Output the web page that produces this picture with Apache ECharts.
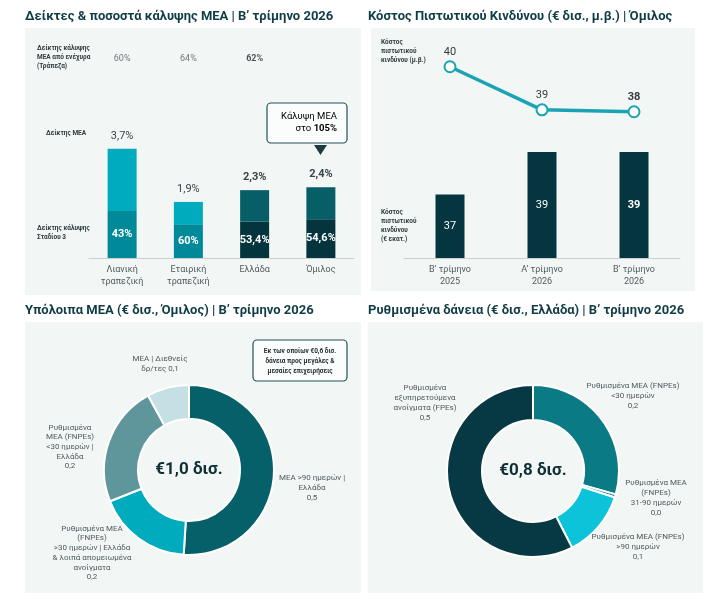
<!DOCTYPE html>
<html>
<head>
<meta charset="utf-8">
<script src="https://cdn.jsdelivr.net/npm/echarts@6/dist/echarts.min.js"></script>
<style>
html, body { margin: 0; padding: 0; background: #fff; }
#main { width: 719px; height: 601px; }
</style>
</head>
<body>
<div id="main"></div>
<script>
// Δείκτες & ποσοστά κάλυψης ΜΕΑ
const segments = ['Λιανική\nτραπεζική', 'Εταιρική\nτραπεζική', 'Ελλάδα', 'Όμιλος'];
const npeRatio = [3.7, 1.9, 2.3, 2.4];
const stage3Coverage = [43, 60, 53.4, 54.6];
const coveredPart = [1.59, 1.14, 1.23, 1.31];
const uncoveredPart = [2.11, 0.76, 1.07, 1.09];
const collateralCoverage = [60, 64, 62, null];

// Κόστος πιστωτικού κινδύνου
const quarters = ['Β’ τρίμηνο\n2025', 'Α’ τρίμηνο\n2026', 'Β’ τρίμηνο\n2026'];
const costOfRisk = [39.6, 38.5, 38.45];
const provisions = [37, 39, 39];

// Υπόλοιπα ΜΕΑ
const npeNames = ['ΜΕΑ >90 ημερών |\nΕλλάδα', 'Ρυθμισμένα ΜΕΑ\n(FNPEs)\n>30 ημερών | Ελλάδα\n& λοιπά απομειωμένα\nανοίγματα', 'Ρυθμισμένα\nΜΕΑ (FNPEs)\n<30 ημερών |\nΕλλάδα', 'ΜΕΑ | Διεθνείς\nδρ/τες'];
const npeValues = [0.51, 0.18, 0.23, 0.08];

// Ρυθμισμένα δάνεια
const restructNames = ['Ρυθμισμένα ΜΕΑ (FNPEs)\n<30 ημερών', 'Ρυθμισμένα ΜΕΑ\n(FNPEs)\n31-90 ημερών', 'Ρυθμισμένα ΜΕΑ (FNPEs)\n>90 ημερών', 'Ρυθμισμένα\nεξυπηρετούμενα\nανοίγματα (FPEs)'];
const restructValues = [0.235, 0.005, 0.1, 0.46];

const comma = (v, d) => v.toFixed(d).replace('.', ',');
const pct = v => String(v).replace('.', ',') + '%';

const FONT = 'Roboto';
const TITLE = '#0f3c45';
const GREY = '#4f5b5e';
const BG = '#f2f6f5';

// θέσεις ετικετών πίτας
const npeLabelPos = [[312, 488], [92, 553], [70, 447], [160, 364]];
const restructLabelPos = [[633, 396], [656, 498], [638, 547], [425, 403]];

let chart = echarts.init(document.getElementById('main'));

const catAxis = (idx, data, show) => ({
  type: 'category',
  gridIndex: idx,
  data: data,
  show: show,
  axisTick: { show: false },
  axisLine: { lineStyle: { color: '#c9cfcf' } },
  axisLabel: { color: GREY, fontSize: 9, lineHeight: 12, margin: 6 }
});
const hiddenValue = (idx, min, max) => ({
  type: 'value', gridIndex: idx, min: min, max: max, show: false, splitLine: { show: false }
});

const smallNote = (x, y, text) => ({
  type: 'text', left: x, top: y,
  style: { text: text, font: 'bold 6.5px "' + FONT + '"', fill: '#2f3b3e', lineHeight: 9 }
});

let option = {
  animation: false,
  textStyle: { fontFamily: FONT },
  title: [
    { text: 'Δείκτες & ποσοστά κάλυψης ΜΕΑ | Β’ τρίμηνο 2026', left: 25, top: 10 },
    { text: 'Κόστος Πιστωτικού Κινδύνου (€ δισ., μ.β.) | Όμιλος', left: 368, top: 10 },
    { text: 'Υπόλοιπα ΜΕΑ (€ δισ., Όμιλος) | Β’ τρίμηνο 2026', left: 25, top: 304 },
    { text: 'Ρυθμισμένα δάνεια (€ δισ., Ελλάδα) | Β’ τρίμηνο 2026', left: 368, top: 304 }
  ].map(t => ({ ...t, padding: 0, textStyle: { fontSize: 13, fontWeight: 'bold', color: TITLE, fontFamily: FONT } })),
  grid: [
    { left: 89, top: 81, width: 265, height: 177 },
    { left: 89, top: 49, width: 265, height: 20 },
    { left: 404, top: 12, width: 276, height: 156.5 },
    { left: 404, top: 130.8, width: 276, height: 127.2 }
  ],
  xAxis: [
    catAxis(0, segments, true),
    catAxis(1, segments, false),
    catAxis(2, quarters, false),
    catAxis(3, quarters, true)
  ],
  yAxis: [
    hiddenValue(0, 0, 6),
    hiddenValue(1, 0, 2),
    hiddenValue(2, 37, 41),
    hiddenValue(3, 34, 40)
  ],
  graphic: [
    { type: 'rect', shape: { x: 25, y: 28, width: 336, height: 267 }, style: { fill: BG }, z: -10 },
    { type: 'rect', shape: { x: 371, y: 28, width: 324, height: 263 }, style: { fill: BG }, z: -10 },
    { type: 'rect', shape: { x: 25, y: 322, width: 336, height: 271 }, style: { fill: BG }, z: -10 },
    { type: 'rect', shape: { x: 368, y: 322, width: 335, height: 271 }, style: { fill: BG }, z: -10 },

    smallNote(37, 44, 'Δείκτης κάλυψης\nΜΕΑ από ενέχυρα\n(Τράπεζα)'),
    smallNote(46, 129, 'Δείκτης ΜΕΑ'),
    smallNote(37, 224, 'Δείκτης κάλυψης\nΣταδίου 3'),
    smallNote(381, 38, 'Κόστος\nπιστωτικού\nκινδύνου (μ.β.)'),
    smallNote(381, 208, 'Κόστος\nπιστωτικού\nκινδύνου\n(€ εκατ.)'),

    // Κάλυψη ΜΕΑ
    { type: 'rect', shape: { x: 267, y: 103, width: 80, height: 40, r: 4 },
      style: { fill: '#fbfcfc', stroke: '#24505a', lineWidth: 1.2 } },
    { type: 'text', x: 337, y: 111,
      style: { text: '{n|Κάλυψη ΜΕΑ}\n{n|στο }{b|105%}', align: 'right', lineHeight: 12,
        rich: {
          n: { fontSize: 9.5, color: '#3c4649', fontFamily: FONT, lineHeight: 12 },
          b: { fontSize: 9.5, color: '#1f2b2e', fontWeight: 'bold', fontFamily: FONT, lineHeight: 12 }
        } } },
    { type: 'polygon', shape: { points: [[314, 145], [327, 145], [320.5, 155]] }, style: { fill: '#1d3a40' } },

    // Εκ των οποίων
    { type: 'rect', shape: { x: 253, y: 340, width: 94, height: 41, r: 4 },
      style: { fill: '#fbfcfc', stroke: '#24505a', lineWidth: 1.2 } },
    { type: 'text', x: 300, y: 346,
      style: { text: 'Εκ των οποίων €0,6 δισ.\nδάνεια προς μεγάλες &\nμεσαίες επιχειρήσεις',
        align: 'center', font: 'bold 6.5px "' + FONT + '"', fill: '#1f2b2e', lineHeight: 10 } },

    // κέντρα πίτας
    { type: 'text', x: 189, y: 470,
      style: { text: '€1,0 δισ.', align: 'center', verticalAlign: 'middle', font: 'bold 17px "' + FONT + '"', fill: '#0f2f37' } },
    { type: 'text', x: 533, y: 471,
      style: { text: '€0,8 δισ.', align: 'center', verticalAlign: 'middle', font: 'bold 17px "' + FONT + '"', fill: '#0f2f37' } }
  ],
  series: [
    {
      type: 'bar', xAxisIndex: 0, yAxisIndex: 0, stack: 'npe', barWidth: 29,
      data: coveredPart.map((v, i) => ({ value: v, itemStyle: { color: i < 2 ? '#008a99' : '#04343d' } })),
      label: {
        show: true, position: 'inside', color: '#fff', fontSize: 11, fontWeight: 'bold',
        formatter: p => pct(stage3Coverage[p.dataIndex])
      }
    },
    {
      type: 'bar', xAxisIndex: 0, yAxisIndex: 0, stack: 'npe', barWidth: 29,
      data: uncoveredPart.map((v, i) => ({
        value: v,
        itemStyle: { color: i < 2 ? '#00abbd' : '#075e66' },
        label: { fontWeight: i < 2 ? 'normal' : 'bold' }
      })),
      label: {
        show: true, position: 'top', distance: 7, color: '#3a4447', fontSize: 11,
        formatter: p => pct(npeRatio[p.dataIndex])
      }
    },
    {
      type: 'scatter', xAxisIndex: 1, yAxisIndex: 1, symbolSize: 0,
      data: collateralCoverage.map((v, i) => v == null ? null : {
        value: [i, 1, v], label: { fontWeight: i === 2 ? 'bold' : 'normal', color: i === 2 ? '#1f2b2e' : GREY }
      }),
      label: { show: true, position: 'inside', fontSize: 9, formatter: p => p.value[2] + '%' }
    },
    {
      type: 'line', xAxisIndex: 2, yAxisIndex: 2, data: costOfRisk.map((v, i) => ({
        value: v, label: { fontWeight: i === 2 ? 'bold' : 'normal' }
      })),
      symbol: 'emptyCircle', symbolSize: 11, z: 5,
      lineStyle: { color: '#1aa3b3', width: 3.5 },
      itemStyle: { color: '#1aa3b3', borderWidth: 1.8 },
      label: { show: true, position: 'top', distance: 3, color: '#333d40', fontSize: 11,
        formatter: p => String(Math.round(p.value)) }
    },
    {
      type: 'bar', xAxisIndex: 3, yAxisIndex: 3, barWidth: 29,
      data: provisions.map((v, i) => ({ value: v, label: { fontWeight: i === 2 ? 'bold' : 'normal' } })),
      itemStyle: { color: '#05353e' },
      label: { show: true, position: 'inside', color: '#fff', fontSize: 11 }
    },
    {
      type: 'pie', center: [189, 470], radius: [51, 85], startAngle: 90, avoidLabelOverlap: false,
      data: npeValues.map((v, i) => ({ name: npeNames[i], value: v })),
      color: ['#05606a', '#00abbd', '#5f969c', '#c4e0e4'],
      itemStyle: { borderColor: '#fff', borderWidth: 2 },
      label: {
        position: 'outside', color: GREY, fontSize: 8, lineHeight: 9.7, align: 'center',
        formatter: p => p.name + (p.dataIndex === 3 ? ' ' : '\n') + comma(p.value, 1)
      },
      labelLine: { show: false },
      labelLayout: p => ({ x: npeLabelPos[p.dataIndex][0], y: npeLabelPos[p.dataIndex][1], align: 'center', verticalAlign: 'middle' })
    },
    {
      type: 'pie', center: [533, 471], radius: [51, 86], startAngle: 90, avoidLabelOverlap: false,
      data: restructValues.map((v, i) => ({ name: restructNames[i], value: v })),
      color: ['#0a7a84', '#178f9a', '#0cc3da', '#063943'],
      itemStyle: { borderColor: '#fff', borderWidth: 2 },
      label: {
        position: 'outside', color: GREY, fontSize: 8, lineHeight: 10, align: 'center',
        formatter: p => p.name + '\n' + comma(p.value, 1)
      },
      labelLine: { show: false },
      labelLayout: p => ({ x: restructLabelPos[p.dataIndex][0], y: restructLabelPos[p.dataIndex][1], align: 'center', verticalAlign: 'middle' })
    }
  ]
};

chart.setOption(option, true);
</script>
</body>
</html>
